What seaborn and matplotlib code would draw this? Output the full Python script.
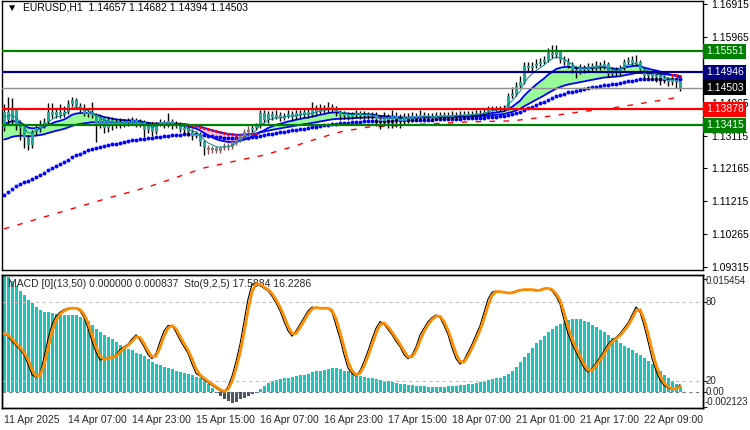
import numpy as np
import pandas as pd
import matplotlib
matplotlib.use("Agg")
import matplotlib.pyplot as plt
import seaborn as sns

sns.set_style("white")
plt.rcParams['font.family'] = ['Liberation Sans', 'DejaVu Sans']
plt.rcParams['font.size'] = 7

# EURUSD H1 bars, 11 Apr 2025 .. 22 Apr 2025
first_open = 1.1333
closes = [1.1380, 1.1357, 1.1385, 1.1342, 1.1333, 1.1305, 1.1284, 1.1322, 1.1333, 1.1342,
          1.1351, 1.1380, 1.1371, 1.1380, 1.1371, 1.1380, 1.1403, 1.1414, 1.1397, 1.1385,
          1.1374, 1.1380, 1.1371, 1.1342, 1.1362, 1.1333, 1.1357, 1.1339, 1.1351, 1.1345,
          1.1354, 1.1348, 1.1357, 1.1345, 1.1351, 1.1328, 1.1342, 1.1322, 1.1345, 1.1351,
          1.1342, 1.1354, 1.1339, 1.1345, 1.1328, 1.1333, 1.1322, 1.1310, 1.1316, 1.1293,
          1.1276, 1.1270, 1.1276, 1.1267, 1.1276, 1.1281, 1.1279, 1.1293, 1.1299, 1.1310,
          1.1322, 1.1328, 1.1333, 1.1339, 1.1377, 1.1357, 1.1374, 1.1365, 1.1371, 1.1362,
          1.1368, 1.1374, 1.1365, 1.1377, 1.1371, 1.1380, 1.1371, 1.1385, 1.1380, 1.1391,
          1.1385, 1.1394, 1.1388, 1.1380, 1.1368, 1.1374, 1.1365, 1.1371, 1.1377, 1.1368,
          1.1374, 1.1368, 1.1371, 1.1359, 1.1354, 1.1365, 1.1357, 1.1368, 1.1359, 1.1354,
          1.1365, 1.1359, 1.1368, 1.1362, 1.1371, 1.1365, 1.1368, 1.1362, 1.1371, 1.1365,
          1.1371, 1.1365, 1.1371, 1.1368, 1.1374, 1.1368, 1.1374, 1.1371, 1.1377, 1.1374,
          1.1380, 1.1388, 1.1391, 1.1388, 1.1391, 1.1392, 1.1426, 1.1432, 1.1455, 1.1466,
          1.1512, 1.1507, 1.1512, 1.1518, 1.1524, 1.1530, 1.1550, 1.1544, 1.1553, 1.1530,
          1.1524, 1.1512, 1.1501, 1.1495, 1.1507, 1.1501, 1.1512, 1.1507, 1.1515, 1.1510,
          1.1518, 1.1489, 1.1501, 1.1492, 1.1507, 1.1524, 1.1530, 1.1521, 1.1524, 1.1501,
          1.1484, 1.1489, 1.1481, 1.1486, 1.1478, 1.1472, 1.1466, 1.1472, 1.14657, 1.14503]
highs = [1.1403, 1.1423, 1.1420, 1.1391, 1.1357, 1.1339, 1.1313, 1.1328, 1.1342, 1.1357,
         1.1362, 1.1406, 1.1406, 1.1391, 1.1403, 1.1397, 1.1414, 1.1423, 1.1420, 1.1406,
         1.1403, 1.1391, 1.1409, 1.1377, 1.1371, 1.1368, 1.1365, 1.1365, 1.1359, 1.1362,
         1.1359, 1.1362, 1.1365, 1.1362, 1.1359, 1.1357, 1.1351, 1.1351, 1.1351, 1.1359,
         1.1357, 1.1377, 1.1359, 1.1354, 1.1351, 1.1342, 1.1339, 1.1330, 1.1325, 1.1322,
         1.1299, 1.1284, 1.1281, 1.1281, 1.1281, 1.1290, 1.1290, 1.1299, 1.1307, 1.1319,
         1.1330, 1.1339, 1.1342, 1.1348, 1.1385, 1.1385, 1.1383, 1.1383, 1.1385, 1.1380,
         1.1377, 1.1385, 1.1383, 1.1385, 1.1385, 1.1391, 1.1388, 1.1409, 1.1400, 1.1403,
         1.1400, 1.1409, 1.1403, 1.1397, 1.1385, 1.1383, 1.1380, 1.1380, 1.1385, 1.1383,
         1.1383, 1.1380, 1.1380, 1.1380, 1.1371, 1.1380, 1.1374, 1.1385, 1.1380, 1.1374,
         1.1377, 1.1377, 1.1380, 1.1377, 1.1385, 1.1380, 1.1377, 1.1377, 1.1380, 1.1380,
         1.1380, 1.1380, 1.1383, 1.1380, 1.1383, 1.1383, 1.1383, 1.1383, 1.1385, 1.1385,
         1.1388, 1.1397, 1.1397, 1.1397, 1.1397, 1.1400, 1.1434, 1.1452, 1.1466, 1.1484,
         1.1524, 1.1524, 1.1524, 1.1533, 1.1536, 1.1541, 1.1564, 1.1573, 1.1573, 1.1559,
         1.1541, 1.1536, 1.1524, 1.1512, 1.1518, 1.1515, 1.1521, 1.1521, 1.1527, 1.1524,
         1.1530, 1.1524, 1.1510, 1.1510, 1.1515, 1.1533, 1.1538, 1.1541, 1.1544, 1.1530,
         1.1507, 1.1498, 1.1495, 1.1495, 1.1492, 1.1486, 1.1481, 1.1481, 1.1478, 1.14682]
lows = [1.1325, 1.1345, 1.1342, 1.1328, 1.1299, 1.1276, 1.1270, 1.1276, 1.1313, 1.1322,
        1.1333, 1.1345, 1.1362, 1.1362, 1.1362, 1.1365, 1.1374, 1.1397, 1.1391, 1.1380,
        1.1368, 1.1365, 1.1362, 1.1293, 1.1333, 1.1319, 1.1322, 1.1328, 1.1333, 1.1333,
        1.1336, 1.1339, 1.1342, 1.1336, 1.1336, 1.1307, 1.1319, 1.1310, 1.1316, 1.1339,
        1.1333, 1.1336, 1.1330, 1.1333, 1.1322, 1.1319, 1.1310, 1.1299, 1.1305, 1.1281,
        1.1255, 1.1258, 1.1261, 1.1261, 1.1261, 1.1270, 1.1270, 1.1273, 1.1284, 1.1293,
        1.1305, 1.1316, 1.1322, 1.1328, 1.1333, 1.1348, 1.1348, 1.1357, 1.1359, 1.1354,
        1.1357, 1.1362, 1.1357, 1.1359, 1.1362, 1.1365, 1.1362, 1.1365, 1.1371, 1.1374,
        1.1377, 1.1380, 1.1380, 1.1368, 1.1357, 1.1359, 1.1357, 1.1359, 1.1362, 1.1359,
        1.1359, 1.1359, 1.1359, 1.1339, 1.1330, 1.1339, 1.1333, 1.1333, 1.1336, 1.1333,
        1.1345, 1.1348, 1.1351, 1.1354, 1.1357, 1.1357, 1.1357, 1.1354, 1.1357, 1.1357,
        1.1359, 1.1357, 1.1359, 1.1359, 1.1362, 1.1362, 1.1362, 1.1362, 1.1365, 1.1368,
        1.1368, 1.1374, 1.1383, 1.1383, 1.1383, 1.1383, 1.1385, 1.1420, 1.1426, 1.1449,
        1.1461, 1.1498, 1.1498, 1.1507, 1.1512, 1.1518, 1.1524, 1.1536, 1.1536, 1.1521,
        1.1515, 1.1507, 1.1492, 1.1478, 1.1489, 1.1492, 1.1495, 1.1498, 1.1501, 1.1501,
        1.1504, 1.1481, 1.1484, 1.1484, 1.1486, 1.1501, 1.1518, 1.1515, 1.1512, 1.1492,
        1.1478, 1.1475, 1.1472, 1.1466, 1.1457, 1.1463, 1.1455, 1.1457, 1.1449, 1.14394]

# slow moving average (red dashed), read at a few bars
slow_ma_bars = [0, 26, 36, 50, 59, 65, 72, 79, 84, 91, 116, 127, 133, 144, 152, 163, 169]
slow_ma_vals = [1.1042, 1.1131, 1.1163, 1.1218, 1.1241, 1.1255, 1.1279, 1.1305, 1.1322, 1.1336,
                1.1351, 1.1354, 1.1362, 1.1380, 1.1391, 1.1411, 1.1423]

# MACD(13,50) main histogram
macd_hist = [0.01545, 0.0152, 0.0146, 0.0140, 0.0134, 0.0128, 0.0122, 0.0117, 0.0112, 0.0108,
             0.0106, 0.0105, 0.0104, 0.0103, 0.0102, 0.0101, 0.0101, 0.0102, 0.0101, 0.0099,
             0.0097, 0.0094, 0.0089, 0.0083, 0.0079, 0.0075, 0.0072, 0.0070, 0.0066, 0.0062,
             0.0059, 0.0057, 0.0055, 0.0052, 0.0050, 0.0047, 0.0044, 0.0040, 0.0037, 0.0035,
             0.0033, 0.0031, 0.0030, 0.0028, 0.0026, 0.0025, 0.0024, 0.0022, 0.0020, 0.0018,
             0.0014, 0.0010, 0.0005, -0.0002, -0.0006, -0.0009, -0.0012, -0.0014, -0.0013, -0.0010,
             -0.0008, -0.0005, -0.0003, -0.0001, 0.0004, 0.0008, 0.0012, 0.0014, 0.0016, 0.0017,
             0.0018, 0.0019, 0.0020, 0.0021, 0.0022, 0.0023, 0.0024, 0.0026, 0.0027, 0.0028,
             0.0029, 0.0030, 0.0031, 0.0031, 0.0030, 0.0028, 0.0027, 0.0025, 0.0023, 0.0021,
             0.0020, 0.0019, 0.0018, 0.0017, 0.0016, 0.0015, 0.0014, 0.0013, 0.0012, 0.0011,
             0.0010, 0.0009, 0.0009, 0.0008, 0.0008, 0.0008, 0.0007, 0.0007, 0.0007, 0.0007,
             0.0007, 0.0008, 0.0008, 0.0008, 0.0009, 0.0009, 0.0010, 0.0011, 0.0012, 0.0013,
             0.0014, 0.0016, 0.0017, 0.0018, 0.0019, 0.0021, 0.0024, 0.0028, 0.0033, 0.0039,
             0.0046, 0.0052, 0.0058, 0.0064, 0.0069, 0.0074, 0.0079, 0.0083, 0.0087, 0.0090,
             0.0093, 0.0095, 0.0096, 0.0097, 0.0096, 0.0094, 0.0092, 0.0089, 0.0086, 0.0082,
             0.0079, 0.0075, 0.0071, 0.0068, 0.0064, 0.0061, 0.0058, 0.0055, 0.0052, 0.0049,
             0.0045, 0.0041, 0.0037, 0.0033, 0.0028, 0.0023, 0.0018, 0.0014, 0.0010, 0.000837]

# Stochastic(9,2,5) main line
stoch_main = [56, 54, 50, 47, 44, 40, 33, 25, 23, 26, 38, 52, 63, 69, 72, 74, 75, 75, 75, 73,
              68, 60, 50, 42, 36, 37, 38, 38, 40, 44, 46, 48, 52, 55, 51, 46, 40, 37, 41, 50,
              58, 62, 62, 57, 51, 46, 41, 33, 26, 24, 21, 19, 17, 15, 13, 12, 16, 24, 35, 48,
              65, 82, 93, 94, 92, 90, 88, 84, 79, 73, 65, 58, 54, 58, 63, 68, 73, 76, 75, 75,
              75, 75, 72, 62, 52, 40, 30, 26, 24, 28, 35, 43, 52, 60, 65, 63, 59, 55, 50, 46,
              40, 37, 40, 46, 55, 60, 65, 68, 70, 68, 62, 55, 45, 37, 33, 36, 42, 48, 55, 62,
              72, 82, 87, 88, 87, 87, 86, 87, 88, 89, 89, 89, 89, 88, 89, 90, 90, 88, 84, 78,
              66, 56, 48, 42, 36, 30, 27, 30, 34, 38, 43, 48, 51, 53, 56, 60, 64, 70, 76, 72,
              62, 50, 37, 28, 21, 17, 15, 14, 14.87, 17.5884]

time_labels = ["11 Apr 2025", "14 Apr 07:00", "14 Apr 23:00", "15 Apr 15:00", "16 Apr 07:00",
               "16 Apr 23:00", "17 Apr 15:00", "18 Apr 07:00", "21 Apr 01:00", "21 Apr 17:00",
               "22 Apr 09:00"]
label_step = 16

price_ticks = [1.16915, 1.15965, 1.15015, 1.14065, 1.13115, 1.12165, 1.11215, 1.10265, 1.09315]
hidden_ticks = [1.15015]   # covered by the navy price box
level_prices = [1.15551, 1.14946, 1.13878, 1.13415]
level_colors = ["#008000", "#000080", "#ff0000", "#008000"]
bid = 1.14503

# moving-average starting values read at the first bar
seed_ma5 = 1.1370
seed_fast = 1.1347
seed_slow = 1.1300
seed_ma50 = 1.1140
shade_bars = range(51, 62)


def ema(values, period, seed):
    k = 2.0 / (period + 1)
    out = [seed]
    for v in values[1:]:
        out.append(out[-1] + k * (v - out[-1]))
    return np.array(out)


n = len(closes)
df = pd.DataFrame({"bar": np.arange(n), "close": closes, "high": highs, "low": lows})
df["open"] = [first_open] + closes[:-1]
df["ma5"] = ema(closes, 5, seed_ma5)
df["fast"] = ema(closes, 13, seed_fast)
df["slow"] = ema(closes, 34, seed_slow)
df["ma50"] = ema(closes, 50, seed_ma50)
df["sto"] = stoch_main
df["sig"] = df["sto"].rolling(2, min_periods=1).mean()
df["hist"] = macd_hist
slow_df = pd.DataFrame({"bar": slow_ma_bars, "ma": slow_ma_vals})

fig = plt.figure(figsize=(7.5, 4.3), dpi=100)
ax = fig.add_axes([0.0027, 0.3721, 0.9347, 0.6256])
ax2 = fig.add_axes([0.0027, 0.0512, 0.9347, 0.3093])
xlim = (-0.5, 174.75)

# ---- main panel ----
fast = df["fast"].values
slow = df["slow"].values
ax.fill_between(df["bar"], fast, slow, where=fast >= slow, interpolate=True, color="#98fb98", lw=0, zorder=1)
ax.fill_between(df["bar"], fast, slow, where=fast < slow, interpolate=True, color="#ffc0cb", lw=0, zorder=1)
sns.lineplot(data=df, x="bar", y="slow", ax=ax, color="#0000ff", lw=1.3, zorder=2)
sns.lineplot(data=df, x="bar", y="fast", ax=ax, color="#0000ff", lw=1.3, zorder=2)
bear = df[df["fast"] < df["slow"]]
sns.scatterplot(data=bear, x="bar", y="slow", ax=ax, color="#ff0000", s=5, linewidth=0, zorder=3)
sns.lineplot(data=slow_df, x="bar", y="ma", ax=ax, color="#ff0000", lw=1, zorder=2,
             linestyle=(0, (4, 6)))
sns.scatterplot(data=df, x="bar", y="ma50", ax=ax, color="#0000ff", s=8, linewidth=0, marker="o", zorder=3)

body_col = ["#808080" if b in shade_bars else "#20a898" for b in df["bar"]]
wick_col = ["#8c4a4a" if b in shade_bars else "#000000" for b in df["bar"]]
ax.vlines(df["bar"], df["low"], df["high"], colors=wick_col, lw=1, zorder=4)
bottoms = np.minimum(df["open"], df["close"])
heights = np.maximum(np.abs(df["close"] - df["open"]), 0.00005)
ax.bar(df["bar"], heights, bottom=bottoms, width=0.75, color=body_col, lw=0, zorder=5)
sns.lineplot(data=df, x="bar", y="ma5", ax=ax, color="#008b8b", lw=0.7, zorder=6)

for p, c in zip(level_prices, level_colors):
    ax.axhline(p, color=c, lw=1.6, zorder=7)
ax.axhline(bid, color="#909090", lw=1, zorder=7)

ax.set_xlim(*xlim)
ax.set_ylim(1.09233, 1.17002)
ax.yaxis.tick_right()
ax.set_yticks(price_ticks)
ax.set_yticklabels(["" if t in hidden_ticks else f"{t:.5f}" for t in price_ticks])
ax.tick_params(axis="y", direction="out", length=3, pad=3, labelsize=7.5, colors="black")
ax.set_xticks([])
ax.set_xlabel("")
ax.set_ylabel("")

ytr = ax.get_yaxis_transform()
for p, c in zip(level_prices + [bid], level_colors + ["#000000"]):
    ax.text(1.004, p, f"{p:.5f}", transform=ytr, ha="left", va="center", color="white", fontsize=7.5,
            zorder=10, clip_on=False,
            bbox=dict(boxstyle="square,pad=0.25", fc=c, ec="none"))

ax.text(0.007, 0.975, "\u25bc  EURUSD,H1  1.14657 1.14682 1.14394 1.14503", transform=ax.transAxes,
        ha="left", va="center", fontsize=7.5, color="black")

# ---- lower panel: MACD histogram + stochastic ----
hcol = ["#20c1b8" if v >= 0 else "#4c5462" for v in df["hist"]]
ax2.bar(df["bar"], df["hist"], width=0.75, color=hcol, lw=0, zorder=2)
ax2.axhline(0, color="#6a7a8a", lw=0.8, ls=(0, (3, 3)), zorder=3)
ax2.set_xlim(*xlim)
ax2.set_ylim(-0.002123, 0.015454)
ax2.set_ylabel("")
ax2.set_yticks([])

tick_pos = [i * label_step for i in range(len(time_labels))]
ax2.set_xticks(tick_pos)
ax2.set_xticklabels(time_labels, ha="left")
ax2.tick_params(axis="x", direction="out", length=4, pad=1, labelsize=7.5)
ax2.set_xlabel("")

ax3 = ax2.twinx()
ax3.set_ylim(0, 100)
for lv in (80, 20):
    ax3.axhline(lv, color="#c0c0c0", lw=0.8, ls=(0, (3, 3)), zorder=1)
sns.lineplot(data=df, x="bar", y="sto", ax=ax3, color="black", lw=0.8, zorder=4)
sns.lineplot(data=df, x="bar", y="sig", ax=ax3, color="#ff8c00", lw=2, zorder=5)
ax3.set_yticks([0.56, 12.2, 20, 80, 97.3])
ax3.set_yticklabels(["", "", "", "", ""])
ax3.tick_params(axis="y", direction="out", length=3)
ax3.set_ylabel("")
ax3.set_xlabel("")

t3 = ax3.get_yaxis_transform()
ax3.text(1.003, 99.5, "0.015454", transform=t3, ha="left", va="top", fontsize=7)
ax3.text(1.003, 80, "80", transform=t3, ha="left", va="center", fontsize=7)
ax3.text(1.003, 20, "20", transform=t3, ha="left", va="center", fontsize=7)
ax3.text(1.003, 12.2, "0.00", transform=t3, ha="left", va="center", fontsize=7)
ax3.text(1.002, 0.8, "-0.002123", transform=t3, ha="left", va="bottom", fontsize=7)

ax2.text(0.009, 0.93, "MACD [0](13,50) 0.000000 0.000837  Sto(9,2,5) 17.5884 16.2286",
         transform=ax2.transAxes, ha="left", va="center", fontsize=7.5, zorder=10)

for a in (ax, ax2, ax3):
    for s in a.spines.values():
        s.set_color("black")
        s.set_linewidth(1)

fig.savefig("out.png", dpi=100)
